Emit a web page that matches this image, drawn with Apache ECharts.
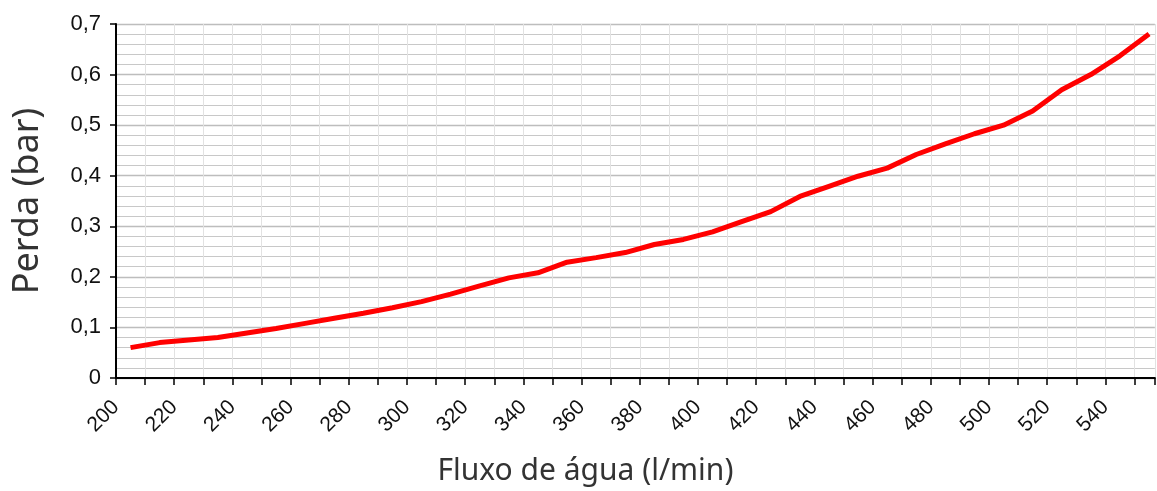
<!DOCTYPE html>
<html>
<head>
<meta charset="utf-8">
<script src="https://cdn.jsdelivr.net/npm/echarts@6/dist/echarts.min.js"></script>
<style>html,body{margin:0;padding:0;background:#fff}#c{width:1157px;height:491px}</style>
</head>
<body>
<div id="c"></div>
<script>
const flows = [205,215,225,235,245,255,265,275,285,295,305,315,325,335,345,355,365,375,385,395,405,415,425,435,445,455,465,475,485,495,505,515,525,535,545,555];
const losses = [0.06,0.07,0.075,0.08,0.089,0.098,0.108,0.118,0.128,0.139,0.151,0.166,0.182,0.198,0.208,0.229,0.238,0.248,0.264,0.274,0.289,0.309,0.329,0.359,0.379,0.399,0.415,0.442,0.463,0.483,0.5,0.528,0.57,0.6,0.637,0.68];
const xTitle = 'Fluxo de água (l/min)';
const yTitle = 'Perda (bar)';

const chart = echarts.init(document.getElementById('c'));
chart.setOption({
  animation: false,
  grid: {left: 116, right: 0, top: 24, bottom: 112},
  xAxis: {
    type: 'value', min: 200, max: 557, interval: 10,
    name: xTitle, nameLocation: 'middle', nameGap: 78,
    nameTextStyle: {fontFamily: 'Noto Sans', fontSize: 30, color: '#333', padding: [0, 100, 0, 0]},
    axisLine: {lineStyle: {color: '#000', width: 2}},
    axisTick: {show: true, length: 7, lineStyle: {color: '#000', width: 1.5}},
    axisLabel: {
      rotate: 45, margin: 26, fontFamily: 'Liberation Sans', fontSize: 21, color: '#111',
      formatter: v => (v % 20 === 0 && v <= 540) ? String(v) : ''
    },
    splitLine: {show: true, lineStyle: {color: '#e2e2e2', width: 1}}
  },
  yAxis: {
    type: 'value', min: 0, max: 0.7, interval: 0.1,
    name: yTitle, nameLocation: 'middle', nameGap: 70,
    nameTextStyle: {fontFamily: 'Noto Sans', fontSize: 36, color: '#333'},
    axisLine: {show: true, lineStyle: {color: '#000', width: 2}},
    axisTick: {show: true, length: 6, lineStyle: {color: '#000', width: 1.5}},
    axisLabel: {
      margin: 15, fontFamily: 'Liberation Sans', fontSize: 22, color: '#111',
      formatter: v => v === 0 ? '0' : v.toFixed(1).replace('.', ',')
    },
    splitLine: {show: true, lineStyle: {color: '#bdbdbd', width: 1.3}},
    minorTick: {show: false, splitNumber: 5},
    minorSplitLine: {show: true, lineStyle: {color: '#c8c8c8', width: 1.2}}
  },
  series: [{
    type: 'line',
    data: flows.map((f, i) => [f, losses[i]]),
    showSymbol: false,
    lineStyle: {color: '#ff0000', width: 5},
    smooth: false
  }]
});
</script>
</body>
</html>
